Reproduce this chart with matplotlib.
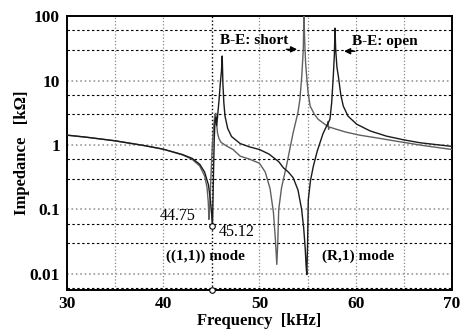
import numpy as np
import matplotlib
matplotlib.use('Agg')
import matplotlib.pyplot as plt

plt.rcParams['font.family'] = ['Liberation Serif', 'DejaVu Serif']

# B-E: short curve (kHz, kOhm)
f_short = [30, 32, 35, 38, 40, 42, 43, 43.8, 44.3, 44.55, 44.68, 44.75, 44.82, 44.95,
           45.1, 45.25, 45.38, 45.47, 45.55, 45.65, 45.8, 46.0, 46.5, 47.25, 48.0, 49.0,
           50.0, 50.6, 51.1, 51.45, 51.65, 51.8, 51.9, 52.0, 52.3, 52.8, 53.5, 54.0,
           54.2, 54.4, 54.55, 54.62, 54.7, 54.8, 54.9, 55.05, 55.27, 55.7, 56.1, 56.6,
           57.05, 57.12, 57.18, 57.25, 58, 59, 60.4, 62, 64.6, 67, 70]
z_short = [1.42, 1.32, 1.16, 0.98, 0.86, 0.7, 0.6, 0.47, 0.33, 0.22, 0.13, 0.07, 0.1, 0.3,
           1.0, 2.0, 3.0, 3.1, 2.1, 1.5, 1.25, 1.1, 0.98, 0.85, 0.67, 0.6,
           0.52, 0.38, 0.21, 0.09, 0.035, 0.014, 0.03, 0.1, 0.22, 0.47, 1.55, 3.2,
           5.1, 12, 30, 110, 40, 18, 11.8, 6.5, 4.0, 3.0, 2.5, 2.2,
           1.96, 2.3, 1.75, 1.9, 1.75, 1.58, 1.42, 1.3, 1.12, 0.98, 0.85]

# B-E: open curve
f_open = [30, 32, 35, 38, 40, 42, 43, 43.8, 44.3, 44.7, 44.9, 45.02, 45.12, 45.2, 45.3,
          45.38, 45.47, 45.55, 45.65, 45.8, 45.95, 46.05, 46.13, 46.2, 46.3, 46.42, 46.7,
          47.1, 48.0, 49.0, 50.0, 51.0, 52.0, 52.5, 53.0, 53.5, 54.0, 54.38, 54.6, 54.75,
          54.85, 54.92, 55.0, 55.07, 55.3, 55.6, 56.0, 56.6, 57.0, 57.32, 57.5, 57.67,
          57.78, 57.85, 57.92, 58.05, 58.19, 58.45, 58.71, 59.2, 60.1, 61.5, 63.2, 65,
          66.7, 70]
z_open = [1.42, 1.32, 1.16, 0.98, 0.86, 0.71, 0.62, 0.5, 0.38, 0.24, 0.14, 0.09, 0.055, 0.25, 1.2,
          2.4, 2.7, 2.0, 2.8, 5, 9.8, 14, 24, 9, 4.5, 2.8, 1.8,
          1.35, 1.05, 0.93, 0.85, 0.72, 0.55, 0.44, 0.38, 0.31, 0.2, 0.1, 0.05, 0.025,
          0.013, 0.0097, 0.03, 0.14, 0.28, 0.47, 0.8, 1.5, 2.0, 2.5, 4.5, 11.8,
          25, 65, 30, 16, 11.8, 6, 4, 2.8, 2.1, 1.65, 1.37, 1.2,
          1.08, 0.95]

x_ticks = [30, 40, 50, 60, 70]
y_ticks = [0.01, 0.1, 1, 10, 100]
y_tick_labels = ['0.01', '0.1', '1', '10', '100']
x_grid = [35, 40, 50, 55, 60, 65]
y_decades = [0.01, 0.1, 1, 10]
y_minor = [0.006, 0.03, 0.06, 0.3, 0.6, 3, 6, 30, 60]
f_mark = 45.12
z_mark = 0.055

fig = plt.figure(figsize=(4.65, 3.29), dpi=100)
ax = fig.add_axes([0.144, 0.1185, 0.828, 0.8325])

for x in x_grid:
    ax.axvline(x, color='#888888', ls=':', lw=0.9, zorder=1)
ax.axvline(f_mark, color='black', ls=':', lw=1.0, zorder=1)
for y in y_decades:
    ax.axhline(y, color='#999999', ls=':', lw=1.2, zorder=1)
for y in y_minor:
    ax.axhline(y, color='black', ls=(0, (2.2, 2.2)), lw=0.8, zorder=1)

ax.plot(f_short, z_short, color='#606060', lw=1.0, zorder=3)
ax.plot(f_open, z_open, color='#1a1a1a', lw=1.0, zorder=3)

ax.plot([f_mark], [z_mark], 'o', mfc='white', mec='black', ms=4, mew=0.8, zorder=4)
ax.plot([f_mark], [0.0056], 'o', mfc='white', mec='black', ms=4, mew=0.8,
        zorder=5, clip_on=False)

ax.set_yscale('log')
ax.set_xlim(30, 70)
ax.set_ylim(0.0056, 100)
ax.set_xticks(x_ticks)
ax.set_xticklabels([str(v) for v in x_ticks])
ax.set_yticks(y_ticks)
ax.set_yticklabels(y_tick_labels)
ax.minorticks_off()
ax.tick_params(length=0, labelsize=12.5)
ax.tick_params(axis='x', pad=4)
ax.tick_params(axis='y', pad=5)
for lab in ax.get_xticklabels() + ax.get_yticklabels():
    lab.set_fontweight('bold')
for s in ax.spines.values():
    s.set_linewidth(1.4)

fig.text(0.558, 0.024, 'Frequency  [kHz]', fontsize=12, fontweight='bold',
         ha='center', va='center')
ax.set_ylabel('Impedance   [k\u03a9]', fontsize=12, fontweight='bold', labelpad=0)

ax.text(49.5, 42, 'B-E: short', fontsize=11, fontweight='bold', ha='center', va='center')
ax.text(63.0, 41, 'B-E: open', fontsize=11, fontweight='bold', ha='center', va='center')
ax.annotate('', xy=(54.2, 30.5), xytext=(52.5, 30.5),
            arrowprops=dict(arrowstyle='-|>', color='black', lw=1, mutation_scale=9))
ax.annotate('', xy=(58.5, 28.5), xytext=(60.2, 28.5),
            arrowprops=dict(arrowstyle='-|>', color='black', lw=1, mutation_scale=9))
ax.text(41.5, 0.08, '44.75', fontsize=11.5, ha='center', va='center')
ax.text(47.6, 0.045, '45.12', fontsize=11.5, ha='center', va='center')
ax.text(44.4, 0.0184, '((1,1)) mode', fontsize=11, fontweight='bold', ha='center', va='center')
ax.text(60.2, 0.0184, '(R,1) mode', fontsize=11, fontweight='bold', ha='center', va='center')

fig.savefig('out.png', dpi=100)
